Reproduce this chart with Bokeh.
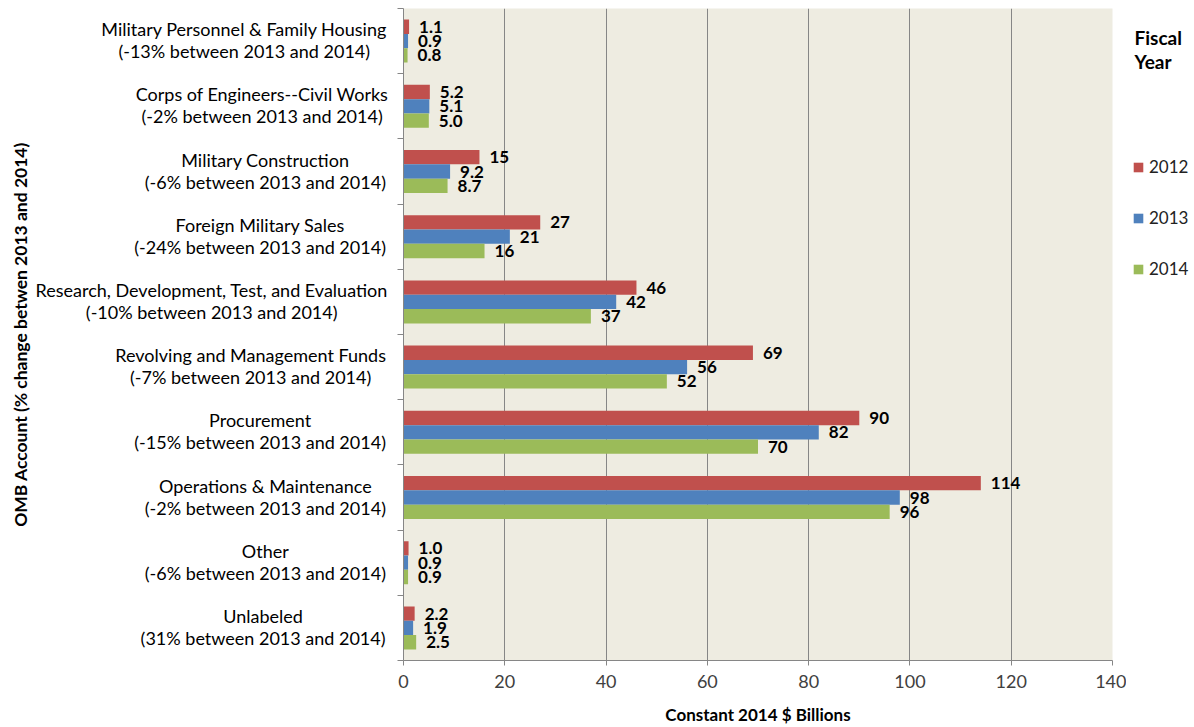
from bokeh.plotting import figure
from bokeh.layouts import row
from bokeh.models import Range1d, FixedTicker, Label, Legend, LegendItem, ColumnDataSource
from bokeh.core.properties import value
from bokeh.embed import file_html
from bokeh.resources import INLINE

# OMB accounts, top to bottom
accounts = [
    "Military Personnel & Family Housing",
    "Corps of Engineers--Civil Works",
    "Military Construction",
    "Foreign Military Sales",
    "Research, Development, Test, and Evaluation",
    "Revolving and Management Funds",
    "Procurement",
    "Operations & Maintenance",
    "Other",
    "Unlabeled",
]
pct_change = ["-13%", "-2%", "-6%", "-24%", "-10%", "-7%", "-15%", "-2%", "-6%", "31%"]

# constant 2014 $ billions
fy2012 = [1.1, 5.2, 15, 27, 46, 69, 90, 114, 1.0, 2.2]
fy2013 = [0.9, 5.1, 9.2, 21, 42, 56, 82, 98, 0.9, 1.9]
fy2014 = [0.8, 5.0, 8.7, 16, 37, 52, 70, 96, 0.9, 2.5]
years = ["2012", "2013", "2014"]
x_ticks = [0, 20, 40, 60, 80, 100, 120, 140]

FONT = "Lato"
GRID = "#868686"
colors = ["#C0504D", "#4F81BD", "#9BBB59"]
H = 727
TOP, BOTTOM = 8, 64
FRAME_H = H - TOP - BOTTOM
LAB_W, LEG_W = 395, 68
CAT_SIZE = 18

n = len(accounts)
yr = Range1d(0, n)

# ---------------- main bar panel ----------------
p = figure(
    width=1194 - LAB_W - LEG_W, height=H,
    x_range=Range1d(0, 140), y_range=yr,
    output_backend="svg", toolbar_location=None,
    min_border_left=8, min_border_right=14,
    min_border_top=TOP, min_border_bottom=BOTTOM,
    background_fill_color="#EEECE1", border_fill_color="white",
    outline_line_color=None,
)

p.xaxis.ticker = FixedTicker(ticks=x_ticks)
p.xaxis.axis_line_color = GRID
p.xaxis.major_tick_line_color = GRID
p.xaxis.major_tick_out = 5
p.xaxis.major_tick_in = 0
p.xaxis.minor_tick_line_color = None
p.xaxis.major_label_standoff = 9
p.xaxis.major_label_text_font = FONT
p.xaxis.major_label_text_font_size = "18px"
p.xaxis.major_label_text_color = "#404040"
p.xaxis.axis_label = "Constant 2014 $ Billions"
p.xaxis.axis_label_standoff = 13
p.xaxis.axis_label_text_font = FONT
p.xaxis.axis_label_text_font_style = "bold"
p.xaxis.axis_label_text_font_size = "17px"
p.xaxis.axis_label_text_color = "black"

# y axis carries only the separator ticks between accounts
p.yaxis.ticker = FixedTicker(ticks=list(range(n + 1)))
p.yaxis.axis_line_color = GRID
p.yaxis.major_tick_line_color = GRID
p.yaxis.major_tick_out = 6
p.yaxis.major_tick_in = 0
p.yaxis.minor_tick_line_color = None
p.yaxis.major_label_standoff = 0
p.yaxis.major_label_text_font_size = "1px"
p.yaxis.major_label_text_color = None

p.xgrid.ticker = FixedTicker(ticks=x_ticks)
p.xgrid.grid_line_color = GRID
p.ygrid.visible = False

centers = [n - i - 0.5 for i in range(n)]
bar_h = 0.22
offsets = [bar_h, 0.0, -bar_h]


def fmt(v):
    return f"{v:.1f}" if v < 10 else f"{v:.0f}"


for vals, off, col in zip([fy2012, fy2013, fy2014], offsets, colors):
    src = ColumnDataSource(dict(
        y=[c + off for c in centers],
        v=vals,
        lab=[fmt(v) for v in vals],
    ))
    p.hbar(y="y", left=0, right="v", height=bar_h, source=src,
           fill_color=col, line_color=None)
    p.text(x="v", y="y", text="lab", source=src, x_offset=10,
           text_align="left", text_baseline="middle",
           text_font=value(FONT), text_font_style="bold",
           text_font_size="17px", text_color="black")

# ---------------- category label panel ----------------
lab = figure(
    width=LAB_W, height=H, x_range=Range1d(0, LAB_W), y_range=yr,
    x_axis_type=None, y_axis_type=None,
    output_backend="svg", toolbar_location=None,
    min_border_left=0, min_border_right=0,
    min_border_top=TOP, min_border_bottom=BOTTOM,
    outline_line_color=None, background_fill_color="white",
    border_fill_color="white",
)

# rough advance widths (em) used to centre the two lines of each label
_EM = {}
for chars, w in [("iljI.,:;'!|", 0.24), ("ftr", 0.34), ("-()", 0.33),
                 ("s", 0.41), ("cz", 0.44), ("ae", 0.5), ("0123456789", 0.58),
                 ("nuohbdpqgkvxy", 0.54), ("m", 0.82), ("w", 0.76),
                 ("EFLSTJ", 0.53), ("PBRCZ", 0.6), ("ADGHKNOQUVXY", 0.7),
                 ("M", 0.85), ("W", 0.98), ("%", 0.75), ("&", 0.68), (" ", 0.2)]:
    for ch in chars:
        _EM[ch] = w


def text_width(s, size):
    return sum(_EM.get(ch, 0.55) for ch in s) * size


right_edge = LAB_W - 13
line1, line2, xc, yc = [], [], [], []
for name, pct, c in zip(accounts, pct_change, centers):
    second = f"({pct} between 2013 and 2014)"
    w = max(text_width(name, CAT_SIZE), text_width(second, CAT_SIZE))
    line1.append(name)
    line2.append(second)
    xc.append(right_edge - w / 2)
    yc.append(c)

for texts, dy in [(line1, -12), (line2, 10)]:
    lab.text(x=xc, y=yc, text=texts, y_offset=dy,
             text_align="center", text_baseline="middle",
             text_font=value(FONT), text_font_size=f"{CAT_SIZE}px",
             text_color="black")

lab.text(x=[20], y=[n / 2], text=["OMB Account (% change betwen 2013 and 2014)"],
         angle=90, angle_units="deg", text_align="center", text_baseline="middle",
         text_font=value(FONT), text_font_style="bold", text_font_size="17.5px",
         text_color="black")

# ---------------- legend panel ----------------
# frames in a row are aligned, so this panel shares the bar panel's vertical frame
leg = figure(
    width=LEG_W, height=H, x_range=Range1d(0, LEG_W), y_range=Range1d(0, FRAME_H),
    x_axis_type=None, y_axis_type=None,
    output_backend="svg", toolbar_location=None,
    min_border_left=0, min_border_right=0,
    min_border_top=TOP, min_border_bottom=BOTTOM,
    outline_line_color=None, background_fill_color="white",
    border_fill_color="white",
)
keys = []
for col in colors:
    r = leg.hbar(y=[0], left=[0], right=[0], height=1, fill_color=col, line_color=None)
    r.visible = False
    keys.append(r)
leg.add_layout(Legend(
    items=[LegendItem(label=y, renderers=[r]) for y, r in zip(years, keys)],
    location=(6, FRAME_H - 274), padding=0, margin=0, spacing=30,
    label_height=20, glyph_height=12, glyph_width=12, label_standoff=5,
    background_fill_alpha=0, border_line_color=None,
    label_text_font=FONT, label_text_font_size="17px",
    label_text_color="#222222",
))
for txt, sy in [("Fiscal", FRAME_H - 32), ("Year", FRAME_H - 56)]:
    leg.add_layout(Label(x=8, y=sy, x_units="screen", y_units="screen",
                         text=txt, text_baseline="middle",
                         text_font=FONT, text_font_style="bold",
                         text_font_size="19px", text_color="black"))

layout = row(lab, p, leg)
open("out.html", "w").write(file_html(layout, INLINE))
